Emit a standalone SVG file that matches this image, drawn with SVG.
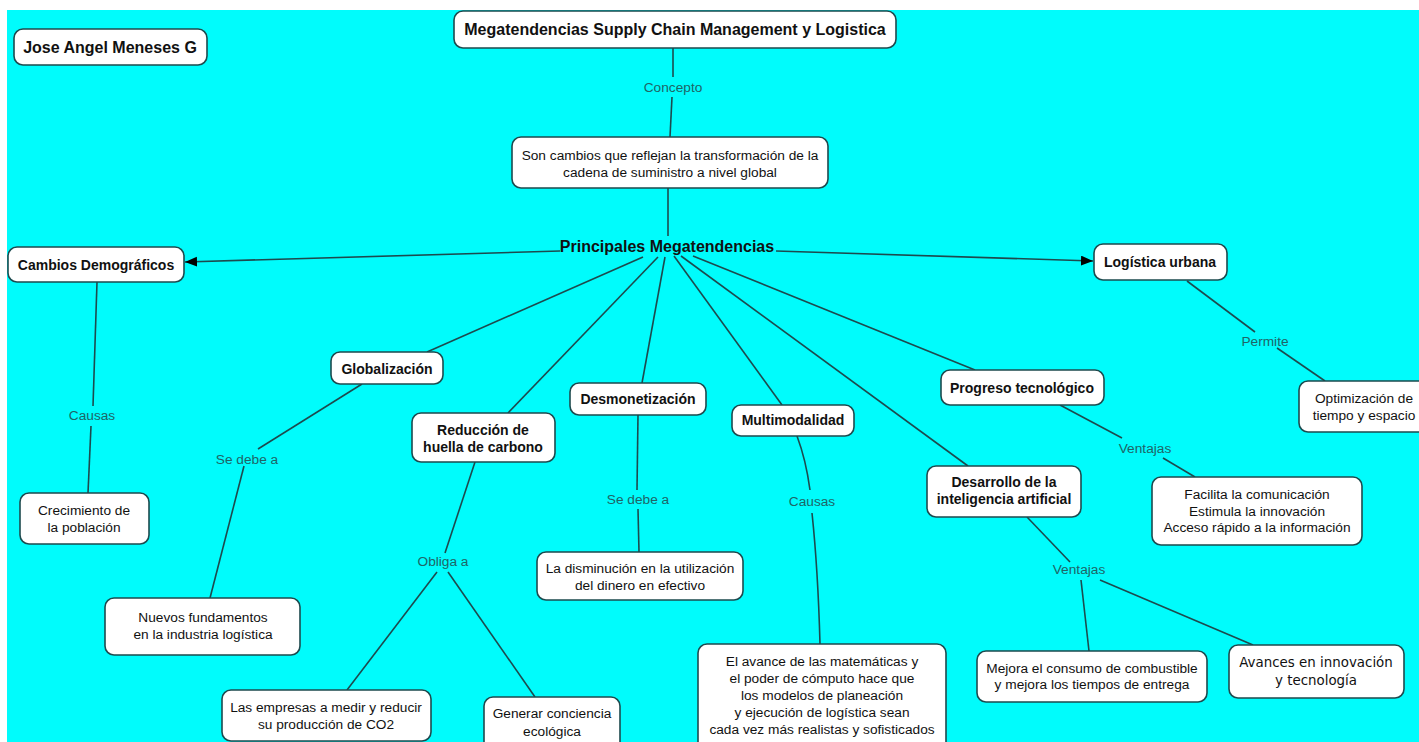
<svg xmlns="http://www.w3.org/2000/svg" width="1419" height="742" viewBox="0 0 1419 742">
  <defs>
    <style>
      .bg { fill: #00fcfc; }
      .box { fill: #ffffff; stroke: #1d4a4e; stroke-width: 1.6; }
      .conn { stroke: #1d4a4e; stroke-width: 1.6; fill: none; }
      text { font-family: "Liberation Sans", Arial, sans-serif; text-anchor: middle; fill: #111111; }
      .b16 { font-size: 16px; font-weight: bold; }
      .b14 { font-size: 14px; font-weight: bold; }
      .reg { font-size: 13.7px; }
      .wide { font-family: "DejaVu Sans", Verdana, sans-serif; font-size: 13.4px; }
      .link { font-size: 13.7px; fill: #1f6466; }
    </style>
    <marker id="arrow" markerWidth="13" markerHeight="11" refX="12" refY="5" orient="auto" markerUnits="userSpaceOnUse">
      <path d="M0,0 L12,5 L0,10 z" fill="#000000"/>
    </marker>
  </defs>

  <rect x="0" y="0" width="1419" height="742" fill="#ffffff"/>
  <rect class="bg" x="7" y="10" width="1412" height="732"/>

  <!-- connectors -->
  <g id="connectors">
    <line class="conn" x1="673" y1="48" x2="673" y2="77"/>
    <line class="conn" x1="672" y1="97" x2="670" y2="137"/>
    <line class="conn" x1="668" y1="188" x2="668" y2="236"/>
    <line class="conn" x1="560" y1="251" x2="185" y2="262" marker-end="url(#arrow)"/>
    <line class="conn" x1="776" y1="251" x2="1093" y2="261" marker-end="url(#arrow)"/>
    <line class="conn" x1="97" y1="282" x2="93" y2="406"/>
    <line class="conn" x1="91" y1="426" x2="88" y2="493"/>
    <line class="conn" x1="643" y1="257" x2="427" y2="352"/>
    <line class="conn" x1="362" y1="384" x2="258" y2="449"/>
    <line class="conn" x1="244" y1="466" x2="210" y2="598"/>
    <line class="conn" x1="658" y1="257" x2="508" y2="413"/>
    <line class="conn" x1="475" y1="462" x2="445" y2="553"/>
    <line class="conn" x1="437" y1="572" x2="347" y2="690"/>
    <line class="conn" x1="448" y1="572" x2="535" y2="697"/>
    <line class="conn" x1="665" y1="257" x2="642" y2="383"/>
    <line class="conn" x1="638" y1="415" x2="637" y2="490"/>
    <line class="conn" x1="638" y1="509" x2="639" y2="552"/>
    <line class="conn" x1="674" y1="256" x2="782" y2="405"/>
    <path class="conn" d="M797,436 Q806,460 810,490"/>
    <path class="conn" d="M812,513 Q818,570 820,644"/>
    <line class="conn" x1="681" y1="256" x2="968" y2="466"/>
    <line class="conn" x1="693" y1="256" x2="975" y2="370"/>
    <line class="conn" x1="1060" y1="405" x2="1122" y2="438"/>
    <line class="conn" x1="1163" y1="458" x2="1195" y2="477"/>
    <line class="conn" x1="1187" y1="281" x2="1255" y2="332"/>
    <line class="conn" x1="1277" y1="348" x2="1325" y2="381"/>
    <line class="conn" x1="1027" y1="517" x2="1070" y2="562"/>
    <line class="conn" x1="1081" y1="580" x2="1089" y2="651"/>
    <line class="conn" x1="1100" y1="580" x2="1253" y2="645"/>
  </g>

  <!-- linking phrases -->
  <g id="links">
    <text class="link" x="673" y="92">Concepto</text>
    <text class="link" x="92" y="420">Causas</text>
    <text class="link" x="247" y="464">Se debe a</text>
    <text class="link" x="443" y="566">Obliga a</text>
    <text class="link" x="638" y="504">Se debe a</text>
    <text class="link" x="812" y="506">Causas</text>
    <text class="link" x="1145" y="453">Ventajas</text>
    <text class="link" x="1265" y="346">Permite</text>
    <text class="link" x="1079" y="574">Ventajas</text>
  </g>

  <!-- concepts -->
  <g id="autor">
    <rect class="box" x="14" y="29" width="193" height="36" rx="9"/>
    <text class="b16" x="110" y="53">Jose Angel Meneses G</text>
  </g>
  <g id="titulo">
    <rect class="box" x="454" y="11" width="442" height="37" rx="9"/>
    <text class="b16" x="675" y="35">Megatendencias Supply Chain Management y Logistica</text>
  </g>
  <g id="concepto">
    <rect class="box" x="512" y="137" width="316" height="51" rx="9"/>
    <text class="reg" x="670" y="160">Son cambios que reflejan la transformación de la</text>
    <text class="reg" x="670" y="177">cadena de suministro a nivel global</text>
  </g>
  <g id="principales">
    <text class="b16" x="667" y="252">Principales Megatendencias</text>
  </g>
  <g id="cambios">
    <rect class="box" x="8" y="247" width="176" height="35" rx="9"/>
    <text class="b14" x="96" y="270">Cambios Demográficos</text>
  </g>
  <g id="logistica-urbana">
    <rect class="box" x="1094" y="244" width="133" height="36" rx="9"/>
    <text class="b14" x="1160" y="267">Logística urbana</text>
  </g>
  <g id="crecimiento">
    <rect class="box" x="20" y="493" width="129" height="51" rx="9"/>
    <text class="reg" x="84" y="515">Crecimiento de</text>
    <text class="reg" x="84" y="532">la población</text>
  </g>
  <g id="globalizacion">
    <rect class="box" x="331" y="352" width="112" height="32" rx="9"/>
    <text class="b14" x="387" y="374">Globalización</text>
  </g>
  <g id="nuevos">
    <rect class="box" x="105" y="598" width="195" height="57" rx="9"/>
    <text class="reg" x="203" y="622">Nuevos fundamentos</text>
    <text class="reg" x="203" y="639">en la industria logística</text>
  </g>
  <g id="reduccion">
    <rect class="box" x="412" y="413" width="143" height="49" rx="9"/>
    <text class="b14" x="483" y="435">Reducción de</text>
    <text class="b14" x="483" y="452">huella de carbono</text>
  </g>
  <g id="empresas">
    <rect class="box" x="222" y="690" width="209" height="51" rx="9"/>
    <text class="reg" x="326" y="712">Las empresas a medir y reducir</text>
    <text class="reg" x="326" y="729">su producción de CO2</text>
  </g>
  <g id="conciencia">
    <rect class="box" x="484" y="697" width="136" height="56" rx="9"/>
    <text class="reg" x="552" y="718">Generar conciencia</text>
    <text class="reg" x="552" y="736">ecológica</text>
  </g>
  <g id="desmonetizacion">
    <rect class="box" x="570" y="383" width="136" height="32" rx="9"/>
    <text class="b14" x="638" y="404">Desmonetización</text>
  </g>
  <g id="disminucion">
    <rect class="box" x="537" y="552" width="206" height="48" rx="9"/>
    <text class="reg" x="640" y="573">La disminución en la utilización</text>
    <text class="reg" x="640" y="590">del dinero en efectivo</text>
  </g>
  <g id="multimodalidad">
    <rect class="box" x="732" y="405" width="122" height="31" rx="9"/>
    <text class="b14" x="793" y="425">Multimodalidad</text>
  </g>
  <g id="avance">
    <rect class="box" x="698" y="644" width="248" height="110" rx="9"/>
    <text class="reg" x="822" y="666">El avance de las matemáticas y</text>
    <text class="reg" x="822" y="683">el poder de cómputo hace que</text>
    <text class="reg" x="822" y="700">los modelos de planeación</text>
    <text class="reg" x="822" y="717">y ejecución de logística sean</text>
    <text class="reg" x="822" y="734">cada vez más realistas y sofisticados</text>
  </g>
  <g id="progreso">
    <rect class="box" x="941" y="370" width="163" height="35" rx="9"/>
    <text class="b14" x="1022" y="393">Progreso tecnológico</text>
  </g>
  <g id="facilita">
    <rect class="box" x="1152" y="477" width="210" height="68" rx="9"/>
    <text class="reg" x="1257" y="499">Facilita la comunicación</text>
    <text class="reg" x="1257" y="516">Estimula la innovación</text>
    <text class="reg" x="1257" y="532">Acceso rápido a la información</text>
  </g>
  <g id="optimizacion">
    <rect class="box" x="1299" y="381" width="135" height="51" rx="9"/>
    <text class="reg" x="1364" y="403">Optimización de</text>
    <text class="reg" x="1364" y="420">tiempo y espacio</text>
  </g>
  <g id="desarrollo">
    <rect class="box" x="927" y="466" width="154" height="51" rx="9"/>
    <text class="b14" x="1004" y="487">Desarrollo de la</text>
    <text class="b14" x="1004" y="504">inteligencia artificial</text>
  </g>
  <g id="mejora">
    <rect class="box" x="977" y="651" width="230" height="51" rx="9"/>
    <text class="reg" x="1092" y="673">Mejora el consumo de combustible</text>
    <text class="reg" x="1092" y="689">y mejora los tiempos de entrega</text>
  </g>
  <g id="avances">
    <rect class="box" x="1229" y="645" width="175" height="53" rx="9"/>
    <text class="wide" x="1316" y="667">Avances en innovación</text>
    <text class="wide" x="1316" y="685">y tecnología</text>
  </g>
</svg>
